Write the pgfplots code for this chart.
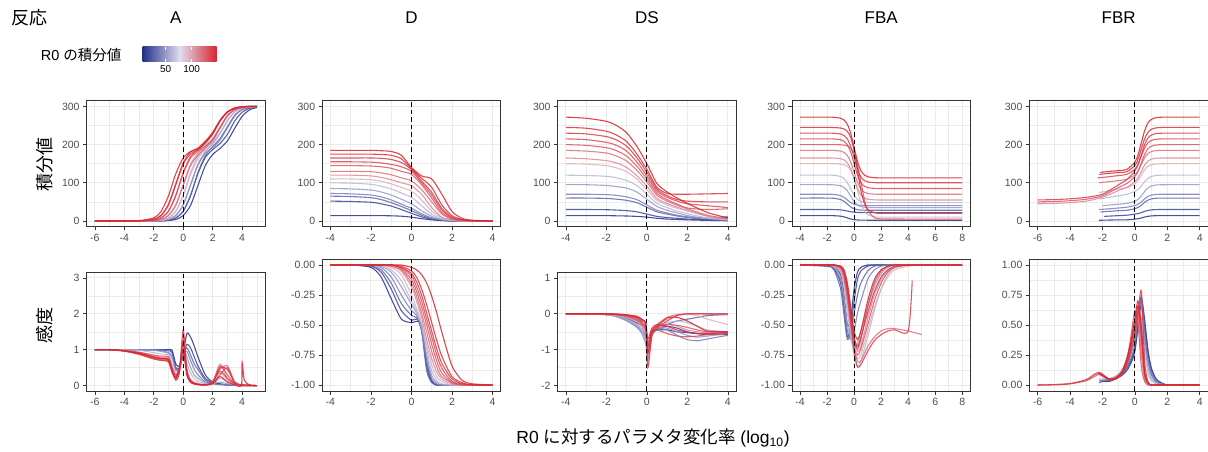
\documentclass[border=0pt]{standalone}
\usepackage{pgfplots}
\usepackage{pgfplotstable}
\pgfplotsset{compat=1.18}
\usepackage{fontspec}
\setmainfont{Liberation Sans}
\newfontfamily\jp{Noto Sans CJK JP}

\definecolor{gframe}{RGB}{51,51,51}
\definecolor{ggrid}{RGB}{235,235,235}
\definecolor{gtext}{RGB}{77,77,77}
\definecolor{lowc}{RGB}{38,48,140}
\definecolor{midc}{RGB}{222,222,238}
\definecolor{highc}{RGB}{216,36,46}
\colorlet{q1}{lowc}
\colorlet{q2}{midc!12!lowc}
\colorlet{q3}{midc!30!lowc}
\colorlet{q4}{midc!45!lowc}
\colorlet{q5}{midc!60!lowc}
\colorlet{q6}{midc!78!lowc}
\colorlet{q7}{highc!25!midc}
\colorlet{q8}{highc!45!midc}
\colorlet{q9}{highc!60!midc}
\colorlet{q10}{highc!72!midc}
\colorlet{q11}{highc!80!midc}
\colorlet{q12}{highc!87!midc}
\colorlet{q13}{highc!93!midc}
\colorlet{q14}{highc}

\pgfplotsset{
  gg/.style={
    scale only axis, anchor=south west,
    axis line style={draw=gframe, line width=0.6pt},
    grid=both,
    major grid style={draw=ggrid, line width=0.9pt},
    minor grid style={draw=ggrid, line width=0.45pt},
    xtick pos=bottom, ytick pos=left,
    tick align=outside,
    major tick length=3.6pt, minor tick length=0pt,
    every tick/.style={draw=gframe, line width=0.6pt},
    tick label style={font=\fontsize{10.5}{12}\selectfont, text=gtext},
    /pgf/number format/assume math mode=true,
    no markers,
  },
  twodec/.style={yticklabel style={/pgf/number format/fixed,
    /pgf/number format/fixed zerofill, /pgf/number format/precision=2}},
  ln/.style={line width=1.1pt, draw opacity=0.85, smooth, tension=0.45},
  zl/.style={black, line width=0.8pt, dash pattern=on 4.5pt off 3pt},
}

\newcommand{\drawlines}[1]{%
  \pgfplotsinvokeforeach{1,...,14}{%
    \addplot[ln, q##1] table[x=x, y=k##1] {#1};
  }%
}
\newcommand{\zline}[2]{\addplot[zl] coordinates {(0,#1) (0,#2)};}

% ---- A ----
\pgfplotstableread{
x k1 k2 k3 k4 k5 k6 k7 k8 k9 k10 k11 k12 k13 k14
-6 0 0 0 0 0 0 0 0 0 0 0 0 0 0
-4 0 0 0 0 0 0 0 0 0 0 0 0 0 0
-3 0 0 0 0 0 0 0 0 0 0 0 0 0 1
-2 0 0 0 0 0 1 1 1 1 2 2 4 5 8
-1.5 0 1 1 1 1 2 2 4 4 8 8 14 15 25
-1 1 2 2 4 4 8 8 15 14 25 26 42 44 66
-0.5 4 8 8 14 15 26 25 43 41 66 68 95 98 124
0 14 25 26 42 43 68 66 96 93 124 127 148 152 165
0.5 41 66 68 94 96 127 122 149 145 165 169 176 181 182
1 93 124 127 146 149 169 163 177 172 182 187 186 191 188
1.5 145 166 171 177 182 191 189 196 191 196 207 204 209 204
2 174 187 195 192 202 207 211 215 210 214 231 228 232 228
2.5 190 203 216 212 229 231 243 246 243 245 263 262 264 262
3 210 227 247 244 262 263 275 276 275 276 286 285 286 285
3.5 243 262 277 275 286 286 292 292 291 292 296 295 296 295
4 274 285 292 292 296 296 297 297 297 297 299 299 299 299
4.5 291 295 298 297 299 299 300 300 300 300 300 300 300 300
5 297 299 300 300 300 300 300 300 300 300 300 300 300 300
}\tAtop

\pgfplotstableread{
x k1 k2 k3 k4 k5 k6 k7 k8 k9 k10 k11 k12 k13 k14
-6 1 1 1 1 1 1 1 1 1 1 1 1 1 1
-5 1 1 1 1 1 1 1 1 1 1 1 1 1 1
-4 1 1 1 1 1 0.99 0.98 0.97 0.97 0.96 0.98 0.97 0.96 0.97
-3 1 1 1 1 0.99 0.98 0.92 0.9 0.89 0.88 0.93 0.91 0.87 0.9
-2 1 1 1 1 0.98 0.92 0.82 0.8 0.78 0.76 0.85 0.8 0.74 0.79
-1.5 1 1 0.99 0.97 0.95 0.88 0.79 0.77 0.75 0.72 0.82 0.76 0.7 0.75
-1 1 1 0.97 0.92 0.9 0.85 0.76 0.73 0.7 0.68 0.8 0.74 0.66 0.72
-0.75 0.98 0.95 0.9 0.8 0.75 0.6 0.5 0.45 0.4 0.38 0.5 0.42 0.36 0.4
-0.5 0.6 0.5 0.45 0.45 0.4 0.3 0.25 0.22 0.18 0.2 0.3 0.15 0.2 0.25
-0.25 0.55 0.5 0.48 0.45 0.5 0.5 0.45 0.42 0.4 0.45 0.5 0.38 0.5 0.48
0 0.9 0.85 0.88 0.9 1 1 1.05 1.1 1.25 1.3 0.95 1.55 1.2 1
0.25 1.45 1.15 1.05 0.95 0.8 0.6 0.45 0.4 0.38 0.35 0.3 0.42 0.33 0.3
0.5 1.35 1.05 0.85 0.7 0.5 0.35 0.18 0.15 0.12 0.1 0.1 0.15 0.1 0.1
0.75 1.1 0.8 0.6 0.45 0.3 0.2 0.1 0.08 0.06 0.05 0.05 0.07 0.05 0.05
1 0.8 0.55 0.45 0.3 0.2 0.12 0.06 0.05 0.04 0.03 0.03 0.04 0.03 0.03
1.5 0.3 0.2 0.15 0.1 0.08 0.05 0.03 0.03 0.02 0.02 0.02 0.02 0.02 0.02
2 0.1 0.08 0.06 0.05 0.05 0.05 0.08 0.1 0.12 0.08 0.06 0.1 0.1 0.05
2.5 0.05 0.04 0.03 0.03 0.1 0.2 0.35 0.6 0.45 0.55 0.3 0.4 0.5 0.25
3 0.02 0.02 0.02 0.02 0.05 0.1 0.15 0.2 0.55 0.3 0.5 0.2 0.45 0.1
3.5 0.01 0.01 0.01 0.01 0.02 0.03 0.04 0.05 0.1 0.05 0.08 0.05 0.08 0.02
3.95 nan nan nan nan nan nan nan nan nan nan nan nan nan 0.01
4 0 0 0 0 0 0 0.01 0.02 0.02 0.01 0.02 0.01 0.02 0.65
4.15 nan nan nan nan nan nan nan nan nan nan nan nan nan 0.15
4.5 0 0 0 0 0 0 0 0.01 0.01 0 0.01 0 0.01 0.02
5 0 0 0 0 0 0 0 0 0 0 0 0 0 0
}\tAbot

% ---- D ----
\pgfplotstableread{
x k1 k2 k3 k4 k5 k6 k7 k8 k9 k10 k11 k12 k13 k14
-4 14 52 65 72 85 100 110 120 130 145 155 165 175 185
-3 14 51 64 71 84 99 110 120 130 145 155 165 175 185
-2 14 49 61 68 81 96 108 118 129 144 154 165 175 185
-1.5 14 45 56 63 76 91 104 114 126 142 152 164 174 184
-1 13.5 39 48 55 68 84 97 108 121 138 148 161 172 182
-0.5 12.5 30 38 44 57 73 88 100 113 130 142 153 163 172
0 10 20 27 33 45 62 78 92 105 122 130 135 137 140
0.5 6 11 15 19 27 40 55 70 82 95 100 105 112 118
1 3 5 6 8 12 18 26 35 50 60 68 75 88 110
1.5 1 2 2 3 4 6 8 10 18 22 28 33 42 70
2 0 0 0 1 1 2 2 3 5 6 8 10 14 25
2.5 0 0 0 0 0 0 0 0 1 2 2 3 4 7
3 0 0 0 0 0 0 0 0 0 0 0 1 1 2
4 0 0 0 0 0 0 0 0 0 0 0 0 0 0
}\tDtop

\pgfplotstableread{
x k1 k2 k3 k4 k5 k6 k7 k8 k9 k10 k11 k12 k13 k14
-4 0 0 0 0 0 0 0 0 0 0 0 0 0 0
-3 0 0 0 0 0 0 0 0 0 0 0 0 0 0
-2 -0.02 -0.01 -0.01 0 0 0 0 0 0 0 0 0 0 0
-1.5 -0.1 -0.06 -0.04 -0.02 -0.01 0 0 0 0 0 0 0 0 0
-1 -0.28 -0.2 -0.15 -0.1 -0.06 -0.04 -0.02 -0.01 -0.01 0 0 0 0 0
-0.5 -0.45 -0.38 -0.32 -0.25 -0.18 -0.13 -0.08 -0.05 -0.04 -0.03 -0.02 -0.02 -0.01 0
0 -0.48 -0.46 -0.42 -0.38 -0.33 -0.3 -0.25 -0.18 -0.15 -0.12 -0.09 -0.07 -0.05 -0.02
0.25 -0.47 -0.45 -0.44 -0.42 -0.4 -0.38 -0.36 -0.3 -0.26 -0.22 -0.18 -0.14 -0.1 -0.04
0.5 -0.5 -0.52 -0.55 -0.55 -0.52 -0.5 -0.48 -0.44 -0.4 -0.35 -0.3 -0.25 -0.2 -0.08
0.75 -0.8 -0.85 -0.88 -0.8 -0.75 -0.7 -0.66 -0.62 -0.56 -0.5 -0.45 -0.4 -0.33 -0.15
1 -0.97 -0.97 -0.98 -0.95 -0.92 -0.88 -0.83 -0.78 -0.72 -0.66 -0.6 -0.55 -0.48 -0.26
1.25 -1 -1 -1 -0.99 -0.98 -0.96 -0.93 -0.89 -0.85 -0.8 -0.75 -0.7 -0.63 -0.4
1.5 -1 -1 -1 -1 -1 -0.99 -0.97 -0.95 -0.93 -0.9 -0.86 -0.82 -0.76 -0.56
2 -1 -1 -1 -1 -1 -1 -1 -0.99 -0.98 -0.98 -0.97 -0.95 -0.93 -0.84
2.5 -1 -1 -1 -1 -1 -1 -1 -1 -1 -1 -0.99 -0.99 -0.98 -0.96
3 -1 -1 -1 -1 -1 -1 -1 -1 -1 -1 -1 -1 -1 -0.99
4 -1 -1 -1 -1 -1 -1 -1 -1 -1 -1 -1 -1 -1 -1
}\tDbot

% ---- DS ----
\pgfplotstableread{
x k1 k2 k3 k4 k5 k6 k7 k8 k9 k10 k11 k12 k13 k14
-4 14 30 60 70 95 120 150 165 185 200 215 230 245 272
-3 14 30 60 70 95 119 149 163 183 198 213 228 243 269
-2 14 29.5 59 69 93 117 145 158 178 192 206 221 235 261
-1.5 13.5 28.5 57 67 90 113 139 152 170 184 198 212 225 250
-1 13 27 54 63 86 106 129 140 157 170 183 196 208 231
-0.5 12 24 48 56 76 93 110 119 133 144 155 166 176 196
0 10 18 36 42 57 70 82 91 102 110 118 127 135 150
0.5 7 12 24 28 38 46 54 59 67 72 78 83 88 98
1 5 9 18 21 28 35 42 46 52 56 62 66 72 76
1.5 4 7 13 15 21 26 33 36 41 44 52 56 70 60
2 3 5 9 11 14 19 26 28 32 34 45 52 70 46
3 1.5 4 4 7 6 8 12 13 15 30 40 50 71 22
4 0.5 9 2 12 2 3 4 5 6 32 35 50 72 8
}\tStop

\pgfplotstableread{
x k1 k2 k3 k4 k5 k6 k7 k8 k9 k10 k11 k12 k13 k14
-4 0 0 0 0 0 0 0 0 0 0 0 0 0 0
-3 0 0 0 0 0 0 0 0 0 0 0 0 0 0
-2 -0.01 -0.02 -0.02 -0.02 -0.03 -0.02 -0.01 -0.01 -0.01 -0.01 0 0 0 0
-1.5 -0.03 -0.05 -0.06 -0.07 -0.08 -0.05 -0.03 -0.03 -0.03 -0.02 -0.02 -0.01 -0.01 -0.01
-1 -0.08 -0.12 -0.15 -0.18 -0.2 -0.15 -0.1 -0.08 -0.07 -0.06 -0.05 -0.04 -0.03 -0.03
-0.5 -0.18 -0.25 -0.3 -0.35 -0.38 -0.3 -0.22 -0.2 -0.18 -0.15 -0.12 -0.1 -0.08 -0.07
-0.25 -0.28 -0.35 -0.45 -0.5 -0.55 -0.45 -0.35 -0.32 -0.3 -0.26 -0.22 -0.2 -0.16 -0.15
-0.05 -0.45 -0.6 -0.7 -0.8 -0.85 -0.75 -0.6 -0.5 -0.45 -0.4 -0.35 -0.3 -0.25 -0.3
0.05 -0.9 -1.1 -1.2 -1.3 -1.2 -1 -1.4 -1.2 -1 -0.8 -0.9 -1.5 -0.7 -1.1
0.25 -0.5 -0.55 -0.6 -0.6 -0.55 -0.5 -0.6 -0.55 -0.5 -0.45 -0.5 -0.6 -0.4 -0.5
0.5 -0.45 -0.42 -0.45 -0.4 -0.4 -0.35 -0.35 -0.38 -0.3 -0.35 -0.45 -0.4 -0.3 -0.35
1 -0.45 -0.35 -0.3 -0.45 -0.4 -0.25 -0.15 -0.3 -0.1 -0.3 -0.55 -0.2 -0.35 -0.12
1.5 -0.5 -0.4 -0.2 -0.6 -0.5 -0.2 -0.05 -0.35 -0.02 -0.32 -0.62 -0.05 -0.45 -0.1
2 -0.52 -0.5 -0.15 -0.72 -0.6 -0.25 -0.02 -0.45 0 -0.38 -0.64 0 -0.52 -0.2
2.5 -0.55 -0.55 -0.1 -0.75 -0.65 -0.35 -0.05 -0.5 0 -0.45 -0.62 0 -0.55 -0.35
3 -0.57 -0.57 -0.05 -0.7 -0.62 -0.45 -0.15 -0.52 -0.01 -0.5 -0.58 0 -0.55 -0.48
4 -0.58 -0.57 -0.02 -0.6 -0.55 -0.5 -0.3 -0.52 -0.02 -0.52 -0.55 0 -0.53 -0.5
}\tSbot

% ---- FBA ----
\pgfplotstableread{
x k1 k2 k3 k4 k5 k6 k7 k8 k9 k10 k11 k12 k13 k14
-4 14 30 60 70 95 120 150 165 185 200 215 230 245 272
-2 14 30 60 70 95 120 150 165 185 200 215 230 245 272
-1.5 13.8 29.9 59.4 69.5 94.6 119.5 149.9 164.7 184.7 200 214.7 229.7 244.6 271.6
-1 12.6 29 56.2 66.4 92.2 116.6 149 163 182.9 199.5 212.7 227.7 243.4 269.1
-0.75 10.8 27.8 51.4 61.9 87.9 111.4 147.5 159.8 179.6 198.6 208.9 223.9 241 264.5
-0.5 8 26 44 55 78.9 100.6 143.4 151.9 171.3 196.5 199.5 214.5 234.4 253.1
-0.25 5.2 24.2 36.6 48.1 65 84 133.3 135.4 154.1 190.8 180 195 218.2 229.2
0 3.4 23 31.8 43.6 51.1 67.4 112.3 110 127.5 176.8 150 165 184.5 192.5
0.25 2.6 22.4 29.5 41.4 42.1 56.6 80 84.6 100.9 147.5 120 135 132.5 155.8
0.5 2.2 22.1 28.6 40.5 37.8 51.4 47.7 68.1 83.7 102.5 100.5 115.5 80.5 131.9
0.75 2.1 22 28.2 40.2 36.1 49.3 26.7 60.2 75.4 57.5 91.1 106.1 46.8 120.5
1 2 22 28 40 35.4 48.5 16.6 57 72.1 28.2 87.3 102.3 30.6 115.9
1.5 2 22 28 40 35 48 11 55.3 70.3 8.5 85.3 100.3 21.6 113.4
2 2 22 28 40 35 48 10 55 70 5.5 85 100 20 113
4 2 22 28 40 35 48 10 55 70 5 85 100 20 113
8 2 22 28 40 35 48 10 55 70 5 85 100 20 113
}\tFAtop

\pgfplotstableread{
x k1 k2 k3 k4 k5 k6 k7 k8 k9 k10 k11 k12 k13 k14
-4 0 0 0 0 0 0 0 0 0 0 0 0 0 0
-2 0 -0.01 -0.01 0 0 0 0 0 0 0 0 0 0 0
-1.5 -0.01 -0.03 -0.04 -0.02 -0.02 -0.01 -0.01 -0.01 0 0 0 0 0 0
-1 -0.08 -0.15 -0.2 -0.12 -0.1 -0.06 -0.05 -0.04 -0.03 -0.02 -0.02 -0.02 -0.01 -0.01
-0.75 -0.25 -0.35 -0.42 -0.3 -0.28 -0.18 -0.15 -0.12 -0.1 -0.08 -0.07 -0.06 -0.05 -0.04
-0.5 -0.5 -0.6 -0.62 -0.55 -0.5 -0.4 -0.35 -0.3 -0.28 -0.25 -0.22 -0.2 -0.18 -0.15
-0.25 -0.45 -0.5 -0.55 -0.62 -0.6 -0.6 -0.55 -0.5 -0.5 -0.48 -0.42 -0.45 -0.4 -0.35
0 -0.2 -0.3 -0.4 -0.55 -0.7 -0.75 -0.7 -0.65 -0.7 -0.68 -0.62 -0.72 -0.6 -0.55
0.25 -0.06 -0.12 -0.25 -0.4 -0.65 -0.85 -0.78 -0.72 -0.8 -0.75 -0.7 -0.85 -0.68 -0.62
0.5 -0.02 -0.05 -0.15 -0.3 -0.55 -0.8 -0.75 -0.68 -0.8 -0.7 -0.62 -0.83 -0.6 -0.55
1 0 -0.01 -0.05 -0.12 -0.35 -0.6 -0.55 -0.45 -0.68 -0.5 -0.35 -0.72 -0.4 -0.3
1.5 0 0 -0.01 -0.04 -0.18 -0.38 -0.35 -0.25 -0.6 -0.3 -0.15 -0.63 -0.22 -0.12
2 0 0 0 -0.01 -0.07 -0.2 -0.2 -0.12 -0.55 -0.15 -0.05 -0.58 -0.1 -0.04
2.5 0 0 0 0 -0.02 -0.08 -0.1 -0.05 -0.53 -0.06 -0.01 -0.55 -0.04 -0.01
3 0 0 0 0 0 -0.02 -0.04 -0.02 -0.53 -0.02 0 -0.54 -0.01 0
4 0 0 0 0 0 0 -0.01 0 -0.55 0 0 -0.55 0 0
4.3 nan nan nan nan nan nan nan nan nan nan nan -0.13 nan nan
5 0 0 0 0 0 0 0 0 -0.58 0 0 nan 0 0
6 0 0 0 0 0 0 0 0 nan 0 0 nan 0 0
8 0 0 0 0 0 0 0 0 nan 0 0 nan 0 0
}\tFAbot

% ---- FBR ----
\pgfplotstableread{
x k1 k2 k3 k4 k5 k6 k7 k8 k9 k10 k11 k12 k13 k14
-6 nan nan nan nan nan nan nan 45 nan 50 nan 55 nan nan
-5 nan nan nan nan nan nan nan 46 nan 51 nan 56 nan nan
-4 nan nan nan nan nan nan nan 48 nan 53 nan 58 nan nan
-3 nan nan nan nan nan nan nan 52 nan 57 nan 62 nan nan
-2.3 nan nan nan nan nan nan nan nan nan nan 113 nan nan nan
-2.2 2 nan nan 30 nan 58 75 nan 100 nan nan nan 122 nan
-2.1 nan nan 24 nan nan nan nan nan nan nan nan nan nan 127
-2 2 nan 24 30.5 40 59 76 62 101 66 114 70 123 128
-1.9 nan 12 nan nan nan nan nan nan nan nan nan nan nan nan
-1 3 14 27 34 44 66 84 80 106 88 119 95 127 132
-0.5 3 15 28 36 46 70 87 88 109 98 122 108 129 135
0 4.8 18 32.3 40.4 51.6 77.5 97.1 103.3 120.7 116.3 135.7 131.3 145.4 154
0.2 5.8 19.4 35.5 43.8 56.6 82.4 106.1 113.8 131.6 130.6 149.2 148.1 162.4 174
0.4 7.8 21.9 41.3 50.1 65.8 91.4 120 130 148.5 152.5 170 174 188.5 205
0.6 10.2 25.1 48.7 57.9 77.2 102.6 133.9 146.2 165.4 174.4 190.8 199.9 214.6 236
0.8 12.2 27.6 54.5 64.2 86.4 111.6 142.9 156.7 176.3 188.7 204.3 216.7 231.6 256
1 13.2 29 57.7 67.6 91.4 116.5 147.2 161.7 181.6 195.5 210.8 224.7 239.7 265.7
1.3 13.8 29.8 59.5 69.4 94.2 119.2 149.3 164.2 184.2 199 214 228.8 243.8 270.5
1.6 14 30 60 70 94.8 119.8 149.9 164.9 184.9 199.8 214.8 229.8 244.8 271.7
2 14 30 60 70 95 120 150 165 185 200 215 230 245 272
4 14 30 60 70 95 120 150 165 185 200 215 230 245 272
}\tFRtop

\pgfplotstableread{
x k1 k2 k3 k4 k5 k6 k7 k8 k9 k10 k11 k12 k13 k14
-6 nan nan nan nan nan nan nan 0 nan 0 nan 0 nan nan
-5 nan nan nan nan nan nan nan 0.003 nan 0.002 nan 0.003 nan nan
-4 nan nan nan nan nan nan nan 0.01 nan 0.01 nan 0.012 nan nan
-3 nan nan nan nan nan nan nan 0.04 nan 0.035 nan 0.045 nan nan
-2.5 nan nan nan nan nan nan nan 0.08 nan 0.07 nan 0.09 nan nan
-2.3 nan nan nan nan nan nan nan nan nan nan 0.1 nan nan nan
-2.2 0.02 nan nan 0.04 nan 0.05 0.08 0.1 0.09 0.09 nan 0.105 0.1 nan
-2.1 nan nan 0.03 nan nan nan nan nan nan nan nan nan nan 0.09
-2 0.03 nan 0.035 0.04 0.05 0.05 0.07 0.09 0.08 0.08 0.08 0.09 0.08 0.08
-1.9 nan 0.03 nan nan nan nan nan nan nan nan nan nan nan nan
-1.6 0.03 0.03 0.04 0.05 0.05 0.05 0.05 0.05 0.05 0.05 0.04 0.05 0.05 0.05
-1.2 0.05 0.05 0.06 0.07 0.07 0.07 0.07 0.06 0.06 0.05 0.05 0.05 0.05 0.06
-0.8 0.08 0.09 0.1 0.11 0.12 0.12 0.12 0.12 0.1 0.1 0.1 0.09 0.1 0.11
-0.5 0.12 0.14 0.15 0.16 0.18 0.2 0.22 0.22 0.2 0.2 0.18 0.17 0.2 0.22
-0.25 0.18 0.2 0.22 0.25 0.28 0.3 0.35 0.36 0.32 0.4 0.3 0.28 0.33 0.36
0 0.28 0.3 0.33 0.38 0.42 0.45 0.52 0.55 0.48 0.62 0.45 0.42 0.5 0.56
0.2 0.5 0.5 0.55 0.6 0.62 0.6 0.6 0.65 0.58 0.5 0.62 0.6 0.66 0.7
0.4 0.72 0.68 0.74 0.7 0.66 0.55 0.3 0.35 0.25 0.15 0.4 0.78 0.5 0.45
0.6 0.55 0.5 0.45 0.4 0.35 0.28 0.08 0.08 0.05 0.03 0.1 0.2 0.12 0.1
0.8 0.3 0.28 0.22 0.2 0.15 0.1 0.02 0.02 0.01 0 0.02 0.03 0.02 0.02
1 0.15 0.13 0.1 0.09 0.06 0.04 0 0 0 0 0 0 0 0
1.3 0.05 0.05 0.03 0.03 0.02 0.01 0 0 0 0 0 0 0 0
1.6 0.02 0.02 0.01 0.01 0.01 0 0 0 0 0 0 0 0 0
2 0 0 0 0 0 0 0 0 0 0 0 0 0 0
3 0 0 0 0 0 0 0 0 0 0 0 0 0 0
4 0 0 0 0 0 0 0 0 0 0 0 0 0 0
}\tFRbot

\begin{document}
\begin{tikzpicture}
\useasboundingbox (0,0) rectangle (1208pt,452pt);

% header
\node[anchor=west, font=\jp\fontsize{18}{20}\selectfont] at (8pt,434pt) {反応};
\node[font=\fontsize{17}{19}\selectfont] at (175.9pt,434pt) {A};
\node[font=\fontsize{17}{19}\selectfont] at (411.5pt,434pt) {D};
\node[font=\fontsize{17}{19}\selectfont] at (646.9pt,434pt) {DS};
\node[font=\fontsize{17}{19}\selectfont] at (881.2pt,434pt) {FBA};
\node[font=\fontsize{17}{19}\selectfont] at (1118.7pt,434pt) {FBR};

% colour legend
\node[anchor=east, font=\fontsize{14.5}{16}\selectfont] at (125pt,397pt) {R0 {\jp の積分値}};
\begin{axis}[scale only axis, anchor=south west, at={(142.7pt,390.3pt)},
  width=74pt, height=15pt, xmin=6, xmax=148, ymin=0, ymax=1,
  axis line style={draw=none}, ytick=\empty, xtick={50,100},
  xtick pos=both, tick align=inside, major tick length=3pt,
  every tick/.style={white, line width=0.6pt}, axis on top,
  tick label style={font=\fontsize{10}{12}\selectfont, text=black},
  /pgf/number format/assume math mode=true]
\shade[left color=lowc, right color=midc] (axis cs:6,0) rectangle (axis cs:77.5,1);
\shade[left color=midc, right color=highc] (axis cs:77,0) rectangle (axis cs:148,1);
\end{axis}

% row labels and x label
\node[rotate=90, font=\jp\fontsize{18}{20}\selectfont] at (45pt,287pt) {積分値};
\node[rotate=90, font=\jp\fontsize{18}{20}\selectfont] at (45pt,126pt) {感度};
\node[font=\fontsize{17.5}{19}\selectfont] at (653pt,14pt) {R0 {\jp に対するパラメタ変化率} (log\textsubscript{10})};

% ---- row 1 ----
\begin{axis}[gg, at={(86.7pt,225.3pt)}, width=178.3pt, height=126pt,
  xmin=-6.55, xmax=5.55, ymin=-15, ymax=315,
  xtick={-6,-4,...,4}, minor xtick={-5,-3,...,5},
  ytick={0,100,200,300}, minor ytick={50,150,250}]
\drawlines{\tAtop}
\zline{-15}{315}
\end{axis}

\begin{axis}[gg, at={(322.3pt,225.3pt)}, width=178.3pt, height=126pt,
  xmin=-4.4, xmax=4.4, ymin=-15, ymax=315,
  xtick={-4,-2,...,4}, minor xtick={-3,-1,...,3},
  ytick={0,100,200,300}, minor ytick={50,150,250}]
\drawlines{\tDtop}
\zline{-15}{315}
\end{axis}

\begin{axis}[gg, at={(557.7pt,225.3pt)}, width=178.3pt, height=126pt,
  xmin=-4.4, xmax=4.4, ymin=-15, ymax=315,
  xtick={-4,-2,...,4}, minor xtick={-3,-1,...,3},
  ytick={0,100,200,300}, minor ytick={50,150,250}]
\drawlines{\tStop}
\zline{-15}{315}
\end{axis}

\begin{axis}[gg, at={(792pt,225.3pt)}, width=178.3pt, height=126pt,
  xmin=-4.6, xmax=8.6, ymin=-15, ymax=315,
  xtick={-4,-2,...,8}, minor xtick={-3,-1,...,7},
  ytick={0,100,200,300}, minor ytick={50,150,250}]
\drawlines{\tFAtop}
\zline{-15}{315}
\end{axis}

\begin{axis}[gg, at={(1029.5pt,225.3pt)}, width=178.3pt, height=126pt,
  xmin=-6.5, xmax=4.5, ymin=-15, ymax=315,
  xtick={-6,-4,...,4}, minor xtick={-5,-3,...,3},
  ytick={0,100,200,300}, minor ytick={50,150,250}]
\drawlines{\tFRtop}
\zline{-15}{315}
\end{axis}

% ---- row 2 ----
\begin{axis}[gg, at={(86.7pt,61pt)}, width=178.3pt, height=118.5pt,
  xmin=-6.55, xmax=5.55, ymin=-0.15, ymax=3.15,
  xtick={-6,-4,...,4}, minor xtick={-5,-3,...,5},
  ytick={0,1,2,3}, minor ytick={0.5,1.5,2.5}]
\drawlines{\tAbot}
\zline{-0.15}{3.15}
\end{axis}

\begin{axis}[gg, twodec, at={(322.3pt,61pt)}, width=178.3pt, height=132pt,
  xmin=-4.4, xmax=4.4, ymin=-1.05, ymax=0.05,
  xtick={-4,-2,...,4}, minor xtick={-3,-1,...,3},
  ytick={-1,-0.75,-0.5,-0.25,0}, minor ytick={-0.875,-0.625,-0.375,-0.125}]
\drawlines{\tDbot}
\zline{-1.05}{0.05}
\end{axis}

\begin{axis}[gg, at={(557.7pt,61pt)}, width=178.3pt, height=118.5pt,
  xmin=-4.4, xmax=4.4, ymin=-2.15, ymax=1.15,
  xtick={-4,-2,...,4}, minor xtick={-3,-1,...,3},
  ytick={-2,-1,0,1}, minor ytick={-1.5,-0.5,0.5}]
\drawlines{\tSbot}
\zline{-2.15}{1.15}
\end{axis}

\begin{axis}[gg, twodec, at={(792pt,61pt)}, width=178.3pt, height=132pt,
  xmin=-4.6, xmax=8.6, ymin=-1.05, ymax=0.05,
  xtick={-4,-2,...,8}, minor xtick={-3,-1,...,7},
  ytick={-1,-0.75,-0.5,-0.25,0}, minor ytick={-0.875,-0.625,-0.375,-0.125}]
\drawlines{\tFAbot}
\zline{-1.05}{0.05}
\end{axis}

\begin{axis}[gg, twodec, at={(1029.5pt,61pt)}, width=178.3pt, height=132pt,
  xmin=-6.5, xmax=4.5, ymin=-0.05, ymax=1.05,
  xtick={-6,-4,...,4}, minor xtick={-5,-3,...,3},
  ytick={0,0.25,0.5,0.75,1}, minor ytick={0.125,0.375,0.625,0.875}]
\drawlines{\tFRbot}
\zline{-0.05}{1.05}
\end{axis}
\end{tikzpicture}
\end{document}
